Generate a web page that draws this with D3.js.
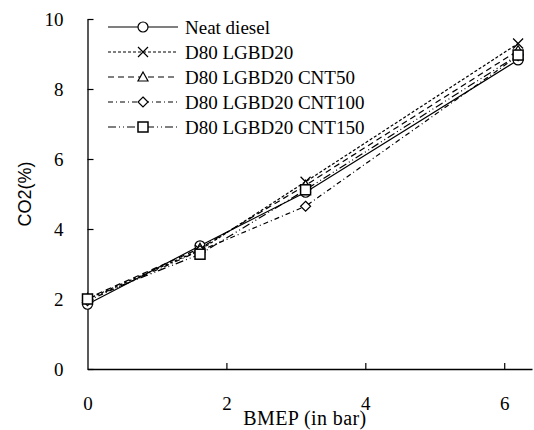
<!DOCTYPE html>
<html><head><meta charset="utf-8">
<script src="https://cdn.jsdelivr.net/npm/d3@7"></script>
<style>body{margin:0;background:#fff}svg{display:block}</style>
</head><body>
<svg id="c" width="534" height="430"></svg>
<script>
const bmep = [0, 1.62, 3.14, 6.2];
const seriesNames = ["Neat diesel", "D80 LGBD20", "D80 LGBD20 CNT50", "D80 LGBD20 CNT100", "D80 LGBD20 CNT150"];
const neatDiesel = [1.85, 3.52, 5.05, 8.83];
const lgbd20 = [2.0, 3.4, 5.35, 9.3];
const cnt50 = [2.02, 3.45, 5.25, 9.1];
const cnt100 = [1.95, 3.38, 4.65, 8.95];
const cnt150 = [2.0, 3.28, 5.12, 8.97];
const xTicks = [0, 2, 4, 6];
const yTicks = [0, 2, 4, 6, 8, 10];

const values = [neatDiesel, lgbd20, cnt50, cnt100, cnt150];
const dashes = ["none", "3,2", "6,4", "5,3,1,3", "8,3,1,3,1,3"];
const markers = ["circle", "x", "triangle", "diamond", "square"];
const SERIF = "Liberation Serif, Times New Roman, serif";

const svg = d3.select("#c");
const x = d3.scaleLinear().domain([0, 6.4]).range([87.5, 532]);
const y = d3.scaleLinear().domain([0, 10]).range([369, 19]);

const gx = svg.append("g").attr("transform", `translate(0,${y(0)})`)
  .call(d3.axisBottom(x).tickValues(xTicks).tickSizeInner(-6).tickSizeOuter(0).tickPadding(28).tickFormat(d3.format("d")));
const gy = svg.append("g").attr("transform", `translate(${x(0)},0)`)
  .call(d3.axisLeft(y).tickValues(yTicks).tickSizeInner(-6).tickSizeOuter(0).tickPadding(24).tickFormat(d3.format("d")));
[gx, gy].forEach(g => {
  g.attr("font-family", SERIF).attr("font-size", 19);
  g.select(".domain").attr("stroke", "#000").attr("stroke-width", 1.3);
  g.selectAll(".tick line").attr("stroke", "#000").attr("stroke-width", 1.2);
  g.selectAll(".tick text").attr("fill", "#000");
});
gx.selectAll(".tick").filter(d => d === 0).select("line").remove();

svg.append("text").attr("font-family", SERIF).attr("x", 305).attr("y", 425).attr("text-anchor", "middle")
  .attr("font-size", 20).style("letter-spacing", "0.4px").text("BMEP (in bar)");
svg.append("text").attr("font-family", "Liberation Sans, Arial, sans-serif").attr("transform", `translate(31,${y(5)}) rotate(-90)`).attr("text-anchor", "middle")
  .attr("font-size", 18).text("CO2(%)");

function drawMarker(g, type, cx, cy) {
  const s = 5;
  if (type === "circle") g.append("circle").attr("cx", cx).attr("cy", cy).attr("r", s).attr("fill", "#fff").attr("stroke", "#000").attr("stroke-width", 1.2);
  else if (type === "x") g.append("path").attr("d", `M${cx-s},${cy-s}L${cx+s},${cy+s}M${cx-s},${cy+s}L${cx+s},${cy-s}`).attr("stroke", "#000").attr("stroke-width", 1.2).attr("fill", "none");
  else if (type === "triangle") g.append("path").attr("d", `M${cx},${cy-s}L${cx+s},${cy+s*0.8}L${cx-s},${cy+s*0.8}Z`).attr("fill", "#fff").attr("stroke", "#000").attr("stroke-width", 1.2);
  else if (type === "diamond") g.append("path").attr("d", `M${cx},${cy-s}L${cx+s},${cy}L${cx},${cy+s}L${cx-s},${cy}Z`).attr("fill", "#fff").attr("stroke", "#000").attr("stroke-width", 1.2);
  else if (type === "square") g.append("rect").attr("x", cx-s).attr("y", cy-s).attr("width", 2*s).attr("height", 2*s).attr("fill", "#fff").attr("stroke", "#000").attr("stroke-width", 1.5);
}

const line = d3.line().x((d, i) => x(bmep[i])).y(d => y(d));
values.forEach((vals, k) => {
  const g = svg.append("g");
  g.append("path").datum(vals).attr("d", line).attr("fill", "none").attr("stroke", "#000")
    .attr("stroke-width", 1.2).attr("stroke-dasharray", dashes[k]);
  vals.forEach((v, i) => drawMarker(g, markers[k], x(bmep[i]), y(v)));
});

const legY0 = 27, legDy = 25;
seriesNames.forEach((name, k) => {
  const g = svg.append("g");
  const ly = legY0 + k * legDy;
  g.append("line").attr("x1", 108).attr("x2", 178).attr("y1", ly).attr("y2", ly)
    .attr("stroke", "#000").attr("stroke-width", 1.1).attr("stroke-dasharray", dashes[k]);
  drawMarker(g, markers[k], 143, ly);
  g.append("text").attr("font-family", SERIF).attr("x", 185).attr("y", ly + 7)
    .attr("font-size", 19).text(name);
});
</script>
</body></html>
